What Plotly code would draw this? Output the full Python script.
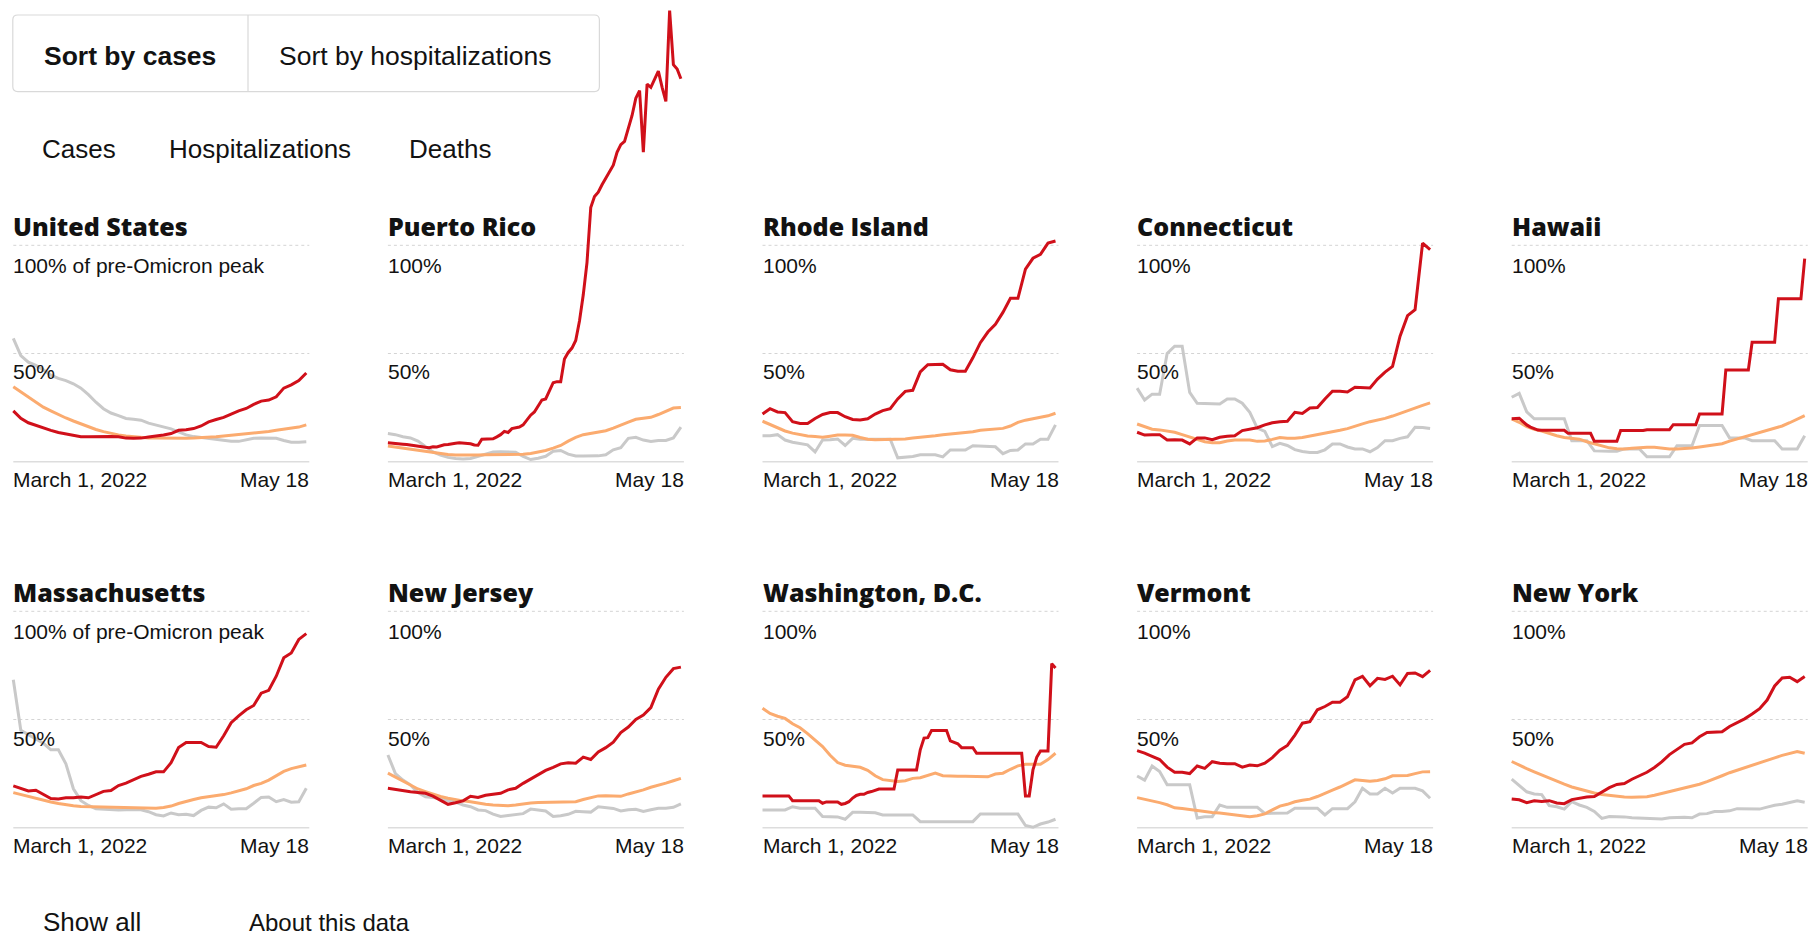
import pandas as pd
import plotly.graph_objects as go

# Share of pre-Omicron peak (%), March 1 - May 18, 2022
START, END = "2022-03-01", "2022-05-18"

US_CASES = [23.5, 20, 18, 16.8, 15.5, 14.5, 13.5, 12.8, 12, 11.5, 11.5, 11.6, 11.8, 11.6, 11.5, 10.9, 10.8, 10.9, 11.4, 11.7,
            12.3, 13, 14.5, 14.8, 15.3, 16.5, 18.4, 19.5, 20.5, 22, 23.5, 24.6, 26.5, 28, 28.5, 30, 34, 35.5, 37.5, 41]
US_HOSP = [34.6, 32.3, 29.9, 27.5, 25.2, 23.5, 21.8, 20.2, 18.8, 17.4, 16.2, 14.9, 13.9, 13.1, 12.4, 11.9, 11.5, 11.2, 11, 10.9,
           10.8, 10.8, 10.8, 10.8, 10.9, 11, 11.2, 11.5, 11.9, 12.2, 12.5, 12.9, 13.2, 13.6, 14, 14.5, 15, 15.5, 16, 17]
US_DEATHS = [57, 49, 46, 44.5, 42.5, 40, 38.5, 37.5, 36, 34, 31, 27.5, 24.5, 22.5, 21.3, 20, 19.6, 19.2, 17.8, 17,
             16.2, 15.2, 13.8, 12.4, 11.6, 11.1, 10.8, 10.3, 9.8, 9.4, 9.4, 10, 10.8, 11, 11, 10.8, 9.8, 9, 9, 9.2]

PR_CASES = [8.8, 8.7, 8.5, 8.3, 8.1, 7.9, 7.6, 7.5, 7.3, 7.0, 6.7, 6.5, 6.9, 6.8, 7.4, 7.8, 8.0, 8.1, 8.5, 8.7,
            8.5, 8.6, 8.3, 7.7, 7.6, 10.4, 10.4, 10.4, 10.6, 11.5, 12.5, 14, 13.5, 15.3, 15.8, 16, 17, 19.5, 21.5, 23,
            25.5, 28.5, 29, 32.5, 36.5, 37, 37, 47.5, 50.5, 52.5, 56, 65, 77, 92, 117.5, 122.5, 124.5, 128, 131, 134,
            137, 143, 146.5, 148, 154, 160, 168, 171.5, 143, 174.5, 173, 176.5, 180.5, 173, 166.5, 208.5, 183.5, 181.5, 177]
PR_HOSP = [7.3, 6.8, 6.2, 5.6, 5.0, 4.5, 4.0, 3.6, 3.3, 3.1, 3.0, 3.0, 3.1, 3.2, 3.2, 3.2, 3.2, 3.2, 3.4, 3.8,
           4.4, 5.2, 6.3, 7.5, 9.5, 11.2, 12.5, 13.1, 13.5, 14.3, 15.5, 17, 18.3, 19.6, 20.1, 20.5, 21.8, 23.3, 24.8, 25]
PR_DEATHS = [13, 12.5, 11.5, 11, 9.5, 7, 4.5, 3, 2, 1.5, 1.2, 1.5, 2.4, 3.5, 4.5, 4.6, 4.6, 4.4, 2.5, 1.0,
             1.6, 2.5, 4.8, 5.2, 3.5, 2.6, 2.6, 2.6, 2.7, 3.2, 5.5, 6.5, 10.8, 11.3, 10, 9.3, 9.8, 9.8, 11, 16]

RI_CASES = [22, 24.5, 23, 22.7, 18.5, 17.7, 17.7, 20, 21.8, 22.7, 22.7, 20.8, 19.5, 19.3, 19.8, 22, 23.6, 24.5, 29, 32.5,
            33, 41.5, 44.8, 44.8, 45, 42.5, 41.8, 41.8, 48, 55, 59.9, 63.5, 69, 75.5, 75.5, 89, 94, 95.8, 101, 102]
RI_HOSP = [18.7, 17.2, 15.7, 14.2, 13.2, 12.4, 11.9, 11.6, 11.3, 11.8, 12.3, 12.3, 12.2, 11.2, 10.4, 10.2, 10.2, 10.3, 10.3, 10.5,
           10.9, 11.2, 11.6, 12, 12.5, 12.8, 13, 13.3, 13.8, 14.5, 14.8, 14.8, 15.4, 16.5, 18.2, 19.2, 19.8, 20.4, 21.2, 22.4]
RI_DEATHS = [12, 12, 12.5, 10, 9, 8.5, 7.8, 4.5, 10, 10.2, 10.5, 7.5, 10.8, 10.4, 10.4, 10.4, 10.4, 10.4, 1.8, 2.2,
             2.4, 3.2, 3.2, 3.2, 2.2, 5.4, 5.4, 5.4, 7.4, 7.2, 6.9, 6.9, 3.7, 5.2, 5.4, 8.2, 8.2, 10.4, 10.4, 17]

CT_CASES = [13.6, 12.3, 12.5, 12.5, 10, 10.2, 10, 8.2, 11, 11, 10.2, 11.3, 11.8, 12, 14.4, 15.2, 15.7, 17, 18, 18.5,
            18.7, 22.8, 22.3, 24.8, 25, 29, 32.6, 32.6, 32.2, 34.4, 34.2, 34.1, 38.2, 41.4, 44, 58, 67.5, 70.2, 101, 98]
CT_HOSP = [17.4, 16.2, 15, 14.7, 14.2, 13.6, 12.5, 11.5, 10.3, 9.2, 8.8, 8.8, 9.6, 10, 10, 10, 9.4, 9.6, 10.3, 11.2,
           10.8, 10.8, 11.2, 11.8, 12.4, 13.1, 13.7, 14.5, 15.3, 16.5, 17.5, 18.5, 19.1, 20, 21.1, 22.4, 23.4, 24.7, 26, 27.2]
CT_DEATHS = [34, 28.5, 31.2, 31.2, 50, 53.4, 53.4, 32, 27, 27, 27, 26.7, 29, 29, 27, 22.8, 15.5, 14, 7, 8.5,
             7.5, 5.6, 4.7, 4.3, 4.3, 5.5, 8.2, 8.2, 6.8, 5.9, 5.9, 4.6, 6.5, 9.7, 9.7, 10.8, 11.5, 15.9, 15.8, 15.3]

HI_CASES = [19.8, 20.1, 20.1, 18.5, 17, 16, 15.3, 14.6, 14.5, 14.5, 14.5, 14.5, 14.5, 14.5, 14.5, 13.1, 13.1, 13.1, 13.1, 13.1,
            13.1, 13.1, 9.4, 9.4, 9.4, 9.4, 9.4, 9.4, 9.4, 14.4, 14.4, 14.4, 14.4, 14.4, 14.4, 14.4, 14.8, 14.8, 14.8, 14.8,
            14.8, 14.8, 14.8, 17.1, 17.1, 17.1, 17.1, 17.1, 17.1, 17.1, 22, 22, 22, 22, 22, 22, 22, 42.4, 42.4, 42.4,
            42.4, 42.4, 42.4, 42.4, 55.2, 55.2, 55.2, 55.2, 55.2, 55.2, 55.2, 75.3, 75.3, 75.3, 75.3, 75.3, 75.3, 75.3, 93.8]
HI_HOSP = [19.8, 18.2, 16.2, 15, 14.2, 13, 12, 11.2, 10.8, 10.4, 9.2, 8.3, 7.2, 6.4, 6, 5.9, 6.2, 6.5, 6.7, 6.7,
           6.2, 5.9, 5.9, 6, 6.3, 6.8, 7.3, 7.7, 8.3, 9.5, 10.5, 11.7, 12.6, 13.6, 14.7, 15.6, 16.5, 18, 19.6, 21.3]
HI_DEATHS = [29.8, 31.6, 23, 19.8, 19.8, 19.8, 19.8, 19.8, 9.7, 9.7, 9.7, 5, 4.8, 4.8, 4.8, 5.9, 5.9, 5.9, 2.3, 2.3,
             2.3, 2.3, 7.4, 7.4, 7.4, 16.7, 16.7, 16.7, 16.7, 11, 11, 11, 9.7, 9.7, 9.7, 9.7, 5.9, 5.9, 5.9, 12]

MA_CASES = [19.3, 18.3, 17, 17.3, 15.5, 13.5, 13.3, 13.8, 13.8, 14.2, 13.8, 15.2, 16.8, 17.2, 19.5, 20.6, 22.2, 23.7, 24.7, 25.8,
            25.8, 30, 37, 39.4, 39.4, 39.4, 37.5, 37.2, 42.5, 48.5, 51.7, 54.5, 56.5, 62.2, 63.5, 70, 78.5, 80.7, 87, 89.7]
MA_HOSP = [16.2, 15.3, 14.5, 13.6, 12.8, 11.9, 11.2, 10.6, 10.1, 9.8, 9.7, 9.7, 9.7, 9.7, 9.5, 9.4, 9.3, 9.2, 9, 9,
           9.3, 10, 11.2, 12.2, 13, 13.8, 14.2, 14.6, 15.3, 16.1, 17, 18, 19.5, 20.5, 22, 24, 26, 27.3, 28.2, 29]
MA_DEATHS = [68.4, 45, 43, 41, 39, 36, 36, 29.5, 18, 12.5, 10.3, 8.7, 8.5, 8.5, 8.2, 8.3, 8.4, 8.3, 7.4, 6,
             5.4, 6.8, 6, 6.2, 5.6, 8, 9.5, 9.2, 11, 8.5, 8.8, 8.8, 11.3, 14, 14.2, 12, 13, 11.8, 12, 18.2]

NJ_CASES = [18.2, 17.6, 17.1, 16.6, 16.3, 15.9, 14.6, 12.6, 10.8, 11.5, 12.4, 14.5, 14, 15, 15.5, 15.9, 17.5, 18.2, 20.5, 22.5,
            24.6, 26.5, 27.9, 29.5, 30, 29.8, 32.6, 31.5, 35, 37, 39.5, 44, 46.5, 50, 52, 55.5, 64, 69.5, 73.5, 74.2]
NJ_HOSP = [25.2, 23.4, 21.3, 19.8, 17.9, 16.7, 15.5, 14.4, 13.6, 12.9, 12.4, 12, 11.3, 10.8, 10.5, 10.2, 10.2, 10.5, 11, 11.4,
           11.6, 11.7, 11.7, 11.8, 11.9, 12, 13, 14, 14.7, 14.8, 14.8, 14.5, 15.6, 16.5, 17.5, 18.7, 19.5, 20.6, 21.7, 22.8]
NJ_DEATHS = [33.6, 25, 22, 19.8, 16.2, 14.3, 13.9, 13.5, 12.6, 11.8, 10.5, 9.7, 8.2, 7.9, 6.3, 5.2, 5.6, 5.9, 6.5, 8.6,
             8.1, 7.7, 5.2, 5.5, 6.2, 7.6, 7.4, 7.2, 9.7, 9.2, 8.9, 7.7, 8.3, 8.5, 7.5, 8.3, 9, 9, 9.4, 11]

DC_CASES = [14.7, 14.7, 14.7, 14.7, 14.7, 14.7, 14.7, 14.7, 12.5, 12.5, 12.5, 12.5, 12.5, 12.5, 12.5, 12.5, 11.3, 11.9, 11.9, 11.9,
            11.9, 10.8, 11.2, 12, 13.7, 14.9, 15.4, 15.4, 16.3, 16.7, 17.2, 17.9, 17.9, 17.9, 17.9, 17.9, 26.7, 26.7, 26.7, 26.7,
            26.7, 26.7, 36, 41.4, 41.6, 44.9, 44.9, 44.9, 44.9, 44.9, 40.1, 39.5, 38.8, 37, 37, 37, 37, 34.4, 34.4, 34.4,
            34.4, 34.4, 34.4, 34.4, 34.4, 34.4, 34.4, 34.4, 34.4, 34.4, 14.7, 14.7, 26.7, 32.5, 35.5, 35.5, 35.5, 75.8, 73.8]
DC_HOSP = [55.2, 52.8, 51.5, 50.5, 48, 46.2, 43.5, 40.5, 37.5, 33.5, 30.1, 28.9, 28.4, 27.9, 26.5, 24, 22.2, 21.6, 21.3, 21.7,
           22.8, 23.1, 24.2, 25.2, 24, 23.8, 23.8, 23.8, 23.6, 23.6, 23.5, 24.8, 25.2, 27, 28.6, 29.3, 29.3, 29.3, 31.5, 34.4]
DC_DEATHS = [8.2, 8.2, 8.2, 8.2, 9.7, 9, 9, 9, 5.2, 5.1, 5, 3.9, 7.1, 7.1, 7.1, 6.9, 5.9, 5.9, 5.9, 5.9,
             5.9, 2.8, 2.8, 2.8, 2.8, 2.8, 2.8, 2.8, 2.8, 6.3, 6.3, 6.3, 6.3, 6.3, 6.3, 1, 0.2, 1.7, 2.6, 3.9]

VT_CASES = [35.6, 34.5, 33, 31.5, 28, 25.6, 25.6, 25, 28.5, 27.4, 30.5, 29.8, 29.5, 29.6, 28, 29, 28.6, 29.8, 32.4, 35.8,
            38, 42.8, 48.3, 49, 54.5, 56, 58, 58, 60.5, 68.3, 69.9, 65.6, 69, 68.5, 70, 66, 71.3, 71.5, 69.8, 72.7]
VT_HOSP = [13.9, 13.2, 12.5, 11.6, 10.6, 9.2, 8.9, 8.4, 7.7, 7.3, 7, 6.8, 6.3, 5.8, 5.4, 5.1, 5.5, 6.4, 8.2, 10,
           10.8, 12, 12.7, 13.2, 14.4, 16, 17.4, 18.8, 20.5, 22.1, 21.8, 21.5, 21.8, 22.6, 24, 24.2, 24.1, 25, 25.8, 25.9]
VT_DEATHS = [23.9, 22, 28.5, 26, 19.8, 19.8, 19.8, 19.8, 4.5, 5.1, 5.1, 10.5, 9.4, 9.4, 9.4, 9.4, 9.4, 6.6, 6.6, 6.6,
             6.8, 9, 9, 9, 9, 5.9, 8.8, 8.8, 8.8, 12, 18.2, 15.6, 15.6, 18.2, 16, 18.2, 18.2, 18.2, 17, 13.6]

NY_CASES = [13.3, 12.9, 11.6, 12.4, 12.1, 12.5, 11.4, 11.1, 13, 13.7, 14.2, 14.4, 16.5, 18.5, 20, 20.4, 22.4, 23.9, 25.6, 27.8,
            30.5, 33.8, 36.2, 38.5, 39.2, 42, 44, 44.1, 44.3, 46.8, 48.5, 50.3, 52.5, 55, 59, 65.5, 69.2, 69.5, 67.5, 69.9]
NY_HOSP = [30.6, 28.8, 27.3, 25.8, 24.3, 22.9, 21.5, 20.1, 18.8, 17.8, 16.8, 16, 15.3, 14.9, 14.6, 14.2, 14.1, 14.1, 14.3, 15,
           15.8, 16.7, 17.5, 18.3, 19.2, 20.1, 21.3, 22.5, 24, 25.4, 26.6, 27.8, 28.8, 30, 31.3, 32.3, 33.4, 34.3, 35.2, 34.4]
NY_DEATHS = [22.4, 19.5, 16.6, 15.6, 15.3, 10.2, 9.7, 8.6, 12, 10.5, 9.4, 7.5, 4.3, 5.2, 5.2, 5, 4.6, 4.4, 4.1, 4,
             4, 4.6, 4.8, 4.8, 4.6, 6.3, 6.5, 7.5, 7.5, 7.8, 8.8, 8.8, 8.6, 8.6, 9.5, 10.4, 10.8, 11.5, 12.4, 11.8]

PANELS = [
    ("United States", US_CASES, US_HOSP, US_DEATHS),
    ("Puerto Rico", PR_CASES, PR_HOSP, PR_DEATHS),
    ("Rhode Island", RI_CASES, RI_HOSP, RI_DEATHS),
    ("Connecticut", CT_CASES, CT_HOSP, CT_DEATHS),
    ("Hawaii", HI_CASES, HI_HOSP, HI_DEATHS),
    ("Massachusetts", MA_CASES, MA_HOSP, MA_DEATHS),
    ("New Jersey", NJ_CASES, NJ_HOSP, NJ_DEATHS),
    ("Washington, D.C.", DC_CASES, DC_HOSP, DC_DEATHS),
    ("Vermont", VT_CASES, VT_HOSP, VT_DEATHS),
    ("New York", NY_CASES, NY_HOSP, NY_DEATHS),
]

BUTTONS = ["Sort by cases", "Sort by hospitalizations"]
TABS = ["Cases", "Hospitalizations", "Deaths"]

RED, ORANGE, GREY = "#d0101a", "#fbab6f", "#c9c9c9"
INK = "#121212"

# Page geometry in screen pixels (page body has an 8px margin)
W, H, OFF = 1802, 933, 8
COL_X, COL_STEP, AX_W, DATA_W = 13.3, 374.6, 296, 293
ROW_Y0 = [461.7, 827.7]
PX_PCT = 2.164


def fx(x):
    return (x - OFF) / W


def fy(y):
    return 1 - (y - OFF) / H


SANS = "Liberation Sans, Arial, sans-serif"
LABEL = dict(family=SANS, size=21, color=INK)
TITLE = dict(family="Open Sans, sans-serif", size=25, color=INK, weight=800)

fig = go.Figure()
layout = {}
shapes = []
annotations = []

start = pd.Timestamp(START)
ppd = DATA_W / 78.0

for i, (name, cases, hosp, deaths) in enumerate(PANELS):
    r, c = divmod(i, 5)
    n = "" if i == 0 else str(i + 1)
    xl = COL_X + c * COL_STEP
    y0 = ROW_Y0[r]
    top = max(112, max(cases) + 3)
    top = min(top, (y0 - OFF - 0.5) / PX_PCT)

    layout["xaxis" + n] = dict(
        domain=[fx(xl - 3), fx(xl + AX_W)],
        range=[start - pd.Timedelta(days=3 / ppd), start + pd.Timedelta(days=AX_W / ppd)],
        type="date", visible=False, fixedrange=True, anchor="y" + n,
    )
    layout["yaxis" + n] = dict(
        domain=[fy(y0 + 4 * PX_PCT), fy(y0 - top * PX_PCT)],
        range=[-4, top], visible=False, fixedrange=True, anchor="x" + n,
    )

    for vals, color in [(deaths, GREY), (hosp, ORANGE), (cases, RED)]:
        fig.add_trace(go.Scatter(
            x=pd.date_range(START, END, periods=len(vals)), y=vals,
            mode="lines", line=dict(color=color, width=3),
            xaxis="x" + n, yaxis="y" + n, hoverinfo="skip", showlegend=False,
        ))

    # grid and baseline
    for lvl in (100, 50):
        shapes.append(dict(type="line", xref="paper", yref="y" + n,
                           x0=fx(xl), x1=fx(xl + AX_W), y0=lvl, y1=lvl, layer="below",
                           line=dict(color="#d4d4d4", width=1, dash="3px,3px")))
    shapes.append(dict(type="line", xref="paper", yref="y" + n,
                       x0=fx(xl), x1=fx(xl + AX_W), y0=0, y1=0, layer="below",
                       line=dict(color="#dddddd", width=1.5)))

    top_label = "100% of pre-Omicron peak" if c == 0 else "100%"
    y100 = y0 - 100 * PX_PCT
    y50 = y0 - 50 * PX_PCT
    annotations += [
        dict(text=name, x=fx(xl), y=fy(y100 - 19.5), xanchor="left", yanchor="middle", font=TITLE, xshift=-2),
        dict(text=top_label, x=fx(xl), y=fy(y100 + 20.5), xanchor="left", yanchor="middle", font=LABEL, xshift=-2),
        dict(text="50%", x=fx(xl), y=fy(y50 + 18.5), xanchor="left", yanchor="middle", font=LABEL, xshift=-2),
        dict(text="March 1, 2022", x=fx(xl), y=fy(y0 + 18), xanchor="left", yanchor="middle", font=LABEL, xshift=-2),
        dict(text="May 18", x=fx(xl + AX_W), y=fy(y0 + 18), xanchor="right", yanchor="middle", font=LABEL, xshift=2),
    ]

# sort buttons: rounded box with a divider
bx0, by0, bx1, by1, rad = 12.8, 15, 599.4, 91.6, 5
pts = [("M", bx0 + rad, by0), ("L", bx1 - rad, by0), ("Q", bx1, by0, bx1, by0 + rad),
       ("L", bx1, by1 - rad), ("Q", bx1, by1, bx1 - rad, by1), ("L", bx0 + rad, by1),
       ("Q", bx0, by1, bx0, by1 - rad), ("L", bx0, by0 + rad), ("Q", bx0, by0, bx0 + rad, by0)]
path = ""
for p in pts:
    cmd, coords = p[0], p[1:]
    xy = [f"{fx(coords[k]):.5f},{fy(coords[k + 1]):.5f}" for k in range(0, len(coords), 2)]
    path += cmd + " ".join(xy) + " "
shapes.append(dict(type="path", path=path + "Z", xref="paper", yref="paper",
                   line=dict(color="#d9d9d9", width=1.2), fillcolor="white", layer="below"))
shapes.append(dict(type="line", xref="paper", yref="paper", x0=fx(248), x1=fx(248),
                   y0=fy(by0), y1=fy(by1), line=dict(color="#d9d9d9", width=1.2)))

annotations += [
    dict(text=BUTTONS[0], x=fx(44), y=fy(56), xanchor="left", yanchor="middle", xshift=-2,
         font=dict(family=SANS, size=26.5, color=INK, weight=700)),
    dict(text=BUTTONS[1], x=fx(279.4), y=fy(56), xanchor="left", yanchor="middle", xshift=-2,
         font=dict(family=SANS, size=26.5, color=INK)),
]
for label, tx in zip(TABS, [41.7, 169, 409]):
    annotations.append(dict(text=label, x=fx(tx), y=fy(148.5), xanchor="left", yanchor="middle", xshift=-2,
                            font=dict(family=SANS, size=26, color=INK)))

annotations += [
    dict(text="Show all", x=fx(43), y=fy(922), xanchor="left", yanchor="middle", xshift=-2,
         font=dict(family=SANS, size=26, color=INK)),
    dict(text="About this data", x=fx(249), y=fy(922), xanchor="left", yanchor="middle", xshift=-2,
         font=dict(family=SANS, size=24, color=INK)),
]

for a in annotations:
    a.update(xref="paper", yref="paper", showarrow=False)

fig.update_layout(
    width=W, height=H,
    margin=dict(l=0, r=0, t=0, b=0),
    paper_bgcolor="white", plot_bgcolor="rgba(0,0,0,0)",
    showlegend=False, hovermode=False,
    shapes=shapes, annotations=annotations,
    **layout,
)

fig.write_html("out.html")
